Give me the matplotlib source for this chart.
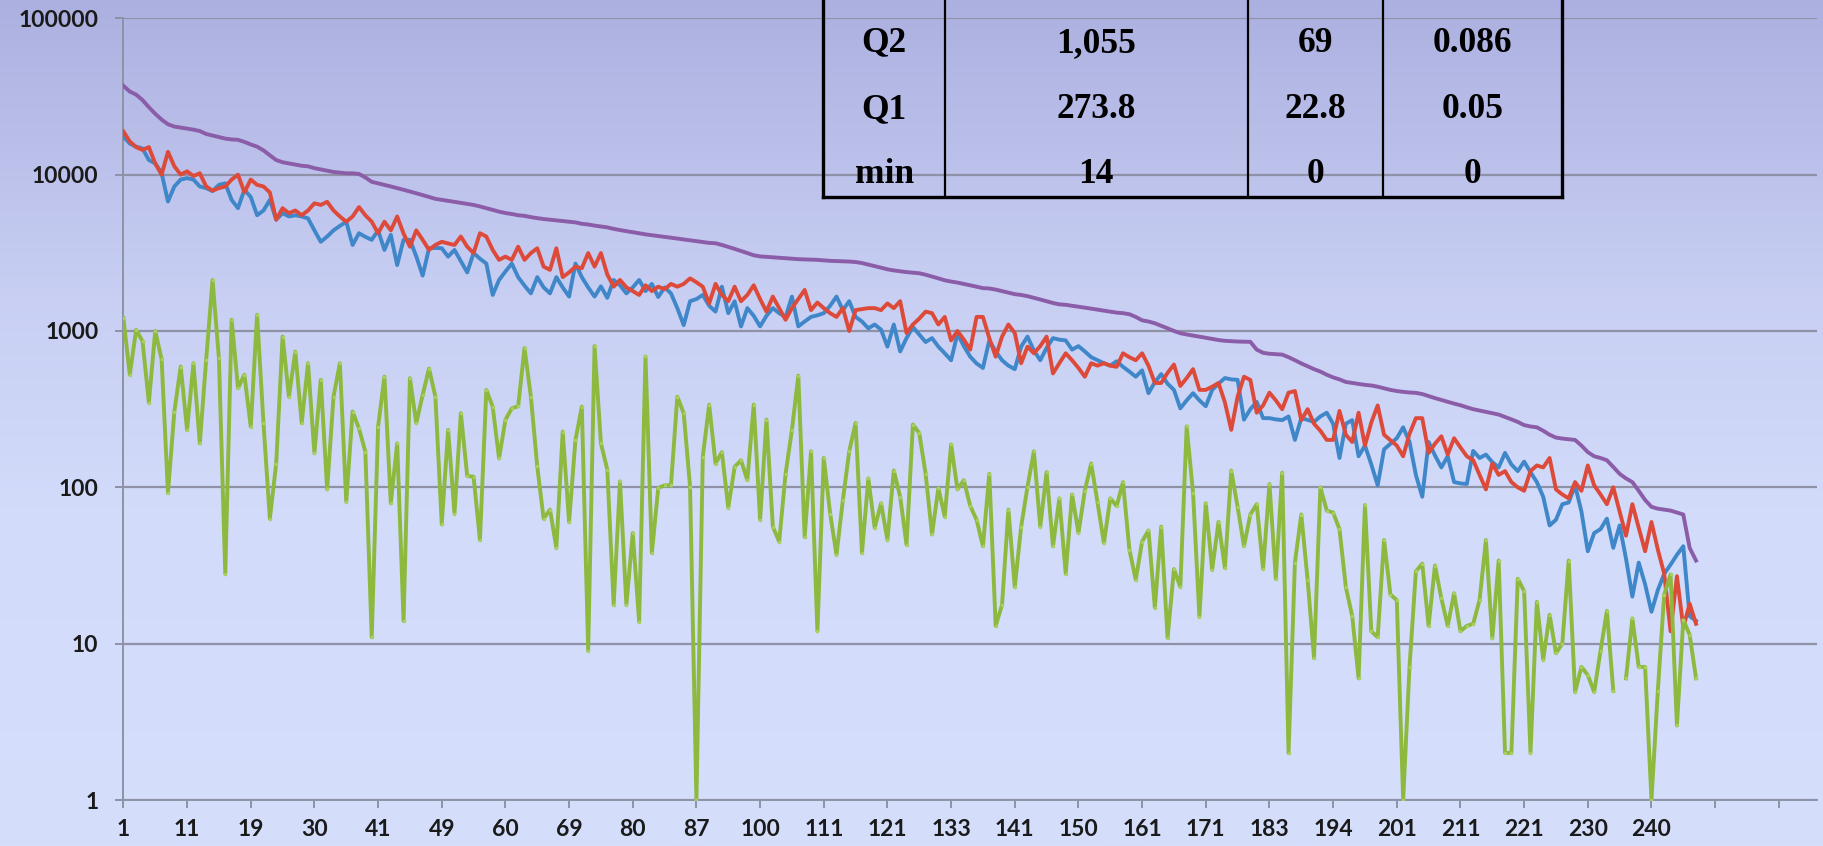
import numpy as np
import matplotlib
matplotlib.use("Agg")
import matplotlib.pyplot as plt
from matplotlib.lines import Line2D

# category labels shown under every 10th tick (last two ticks are empty categories)
tick_labels = ["1", "11", "19", "30", "41", "49", "60", "69", "80", "87", "100", "111", "121",
               "133", "141", "150", "161", "171", "183", "194", "201", "211", "221", "230", "240", "", ""]
y_ticks = [1, 10, 100, 1000, 10000, 100000]
y_tick_labels = ["1", "10", "100", "1000", "10000", "100000"]

total = [37000, 34000, 32500, 30000, 27000, 24500, 22500, 21000, 20300, 20000,
         19700, 19400, 19000, 18200, 17800, 17400, 17000, 16800, 16700, 16200,
         15600, 15100, 14300, 13300, 12400, 12000, 11800, 11600, 11400, 11300,
         11000, 10800, 10600, 10400, 10300, 10200, 10200, 10100, 9600, 9000,
         8800, 8600, 8400, 8200, 8000, 7800, 7600, 7400, 7200, 7000,
         6900, 6800, 6700, 6600, 6500, 6400, 6260, 6100, 5950, 5800,
         5680, 5600, 5500, 5450, 5350, 5270, 5200, 5150, 5100, 5050,
         5010, 4950, 4850, 4800, 4720, 4660, 4600, 4500, 4420, 4350,
         4280, 4220, 4150, 4100, 4050, 4000, 3950, 3900, 3850, 3800,
         3750, 3700, 3660, 3640, 3550, 3450, 3350, 3250, 3150, 3050,
         3000, 2980, 2960, 2940, 2920, 2900, 2880, 2870, 2860, 2850,
         2830, 2810, 2800, 2790, 2780, 2760, 2720, 2660, 2600, 2540,
         2480, 2440, 2410, 2380, 2360, 2340, 2290, 2230, 2170, 2110,
         2070, 2040, 2000, 1960, 1920, 1880, 1870, 1840, 1800, 1760,
         1720, 1700, 1670, 1630, 1590, 1550, 1510, 1480, 1470, 1450,
         1430, 1410, 1390, 1370, 1350, 1330, 1310, 1300, 1280, 1230,
         1170, 1150, 1120, 1080, 1040, 1000, 968, 950, 935, 920,
         905, 890, 875, 865, 860, 856, 854, 852, 760, 725,
         715, 710, 706, 680, 650, 620, 595, 570, 550, 525,
         505, 490, 472, 465, 458, 452, 448, 440, 430, 420,
         413, 408, 404, 402, 395, 383, 372, 362, 352, 343,
         335, 325, 316, 310, 304, 298, 292, 282, 272, 262,
         250, 245, 242, 230, 217, 208, 205, 203, 201, 185,
         168, 158, 154, 149, 135, 122, 114, 108, 95, 83,
         75, 73, 72, 71, 69, 67, 41, 34]

blue = [17500, 15800, 15100, 14700, 12400, 11800, 10250, 6730, 8400, 9300,
        9500, 9300, 8400, 8200, 7850, 8600, 8800, 6890, 6100, 8000,
        7200, 5500, 5900, 6890, 5150, 5670, 5400, 5500, 5400, 5250,
        4400, 3720, 4020, 4400, 4700, 5000, 3550, 4220, 4000, 3830,
        4400, 3300, 4120, 2640, 3830, 3830, 3000, 2260, 3380, 3400,
        3380, 2990, 3300, 2800, 2370, 3150, 2900, 2700, 1700, 2120,
        2400, 2700, 2210, 1950, 1740, 2210, 1900, 1740, 2210, 1900,
        1660, 2700, 2210, 1900, 1660, 1930, 1630, 2120, 1960, 1740,
        1900, 2120, 1800, 2000, 1650, 1900, 1740, 1400, 1090, 1550,
        1600, 1700, 1450, 1330, 1920, 1300, 1550, 1070, 1400, 1250,
        1070, 1250, 1400, 1300, 1230, 1660, 1070, 1150, 1230, 1260,
        1300, 1450, 1660, 1360, 1550, 1230, 1150, 1040, 1100, 1020,
        794, 1100, 740, 900, 1060, 950, 850, 900, 794, 720,
        650, 960, 800, 685, 620, 580, 870, 740, 650, 600,
        570, 794, 920, 750, 650, 780, 900, 880, 870, 760,
        800, 740, 680, 650, 622, 600, 640, 590, 550, 510,
        560, 400, 470, 530, 460, 420, 320, 360, 400, 360,
        330, 420, 460, 500, 490, 487, 271, 316, 352, 277,
        277, 272, 269, 284, 201, 277, 270, 262, 284, 300,
        255, 154, 255, 269, 158, 185, 140, 103, 175, 190,
        206, 242, 195, 120, 87, 195, 160, 134, 158, 108,
        106, 105, 171, 154, 162, 145, 134, 166, 140, 127,
        146, 125, 108, 87, 57, 62, 78, 80, 103, 70,
        39, 51, 54, 63, 41, 57, 35, 20, 33, 24,
        16, 22, 28, 32, 37, 42, 15, 14]

red = [18900, 16300, 15000, 14400, 15000, 11800, 10000, 14000, 11300, 10000,
       10500, 9800, 10200, 8400, 7900, 8200, 8400, 9300, 10000, 7700,
       9300, 8600, 8400, 7700, 5150, 6100, 5670, 5900, 5500, 5900,
       6560, 6400, 6700, 5900, 5400, 5000, 5400, 6200, 5500, 5000,
       4220, 5000, 4400, 5400, 4200, 3460, 4400, 3830, 3300, 3550,
       3720, 3630, 3550, 4020, 3460, 3150, 4220, 4020, 3300, 2850,
       2990, 2850, 3460, 2850, 3150, 3380, 2580, 2460, 3380, 2210,
       2370, 2580, 2520, 3150, 2580, 3150, 2300, 1920, 2120, 1900,
       1800, 1700, 1960, 1800, 1920, 1850, 2000, 1920, 2000, 2170,
       2050, 1920, 1500, 2000, 1700, 1550, 1920, 1550, 1700, 1960,
       1600, 1330, 1660, 1400, 1180, 1400, 1600, 1830, 1360, 1520,
       1400, 1300, 1230, 1400, 1000, 1360, 1380, 1400, 1400, 1360,
       1500, 1400, 1550, 970, 1100, 1200, 1330, 1300, 1100, 1230,
       870, 1000, 880, 760, 1230, 1230, 900, 685, 920, 1100,
       970, 622, 794, 720, 800, 920, 535, 622, 720, 650,
       580, 510, 622, 600, 622, 600, 590, 720, 680, 650,
       720, 600, 465, 465, 540, 610, 445, 500, 570, 420,
       420, 440, 465, 350, 233, 380, 510, 486, 300, 334,
       403, 360, 316, 403, 413, 269, 316, 255, 230, 201,
       201, 308, 217, 195, 300, 185, 260, 334, 217, 200,
       185, 158, 220, 277, 277, 166, 190, 212, 162, 206,
       180, 158, 149, 120, 97, 142, 120, 127, 108, 100,
       95, 127, 138, 134, 154, 97, 90, 85, 108, 95,
       138, 103, 90, 78, 100, 70, 49, 78, 55, 39,
       60, 40, 28, 12, 27, 12.7, 18, 13.4]

# zero counts cannot sit on a log axis and are left as gaps
green = [1208, 525, 1016, 860, 348, 1000, 660, 92, 305, 592,
         233, 622, 191, 653, 2120, 670, 28, 1178, 431, 525,
         244, 1268, 257, 63, 142, 920, 380, 738, 257, 622,
         165, 487, 97, 380, 622, 81, 305, 238, 169, 11,
         244, 510, 79, 191, 14, 499, 257, 390, 575, 380,
         58, 233, 68, 298, 118, 117, 46, 420, 328, 153,
         270, 320, 330, 776, 380, 136, 63, 72, 41, 227,
         60, 201, 328, 9, 800, 191, 130, 17.7, 109, 17.7,
         51, 13.8, 687, 38, 99, 103, 103, 380, 298, 101,
         1, 157, 338, 142, 168, 74, 135, 149, 111, 338,
         62, 271, 56, 45, 122, 233, 518, 48, 170, 12,
         154, 68, 37, 83, 170, 258, 38, 114, 55, 79,
         46, 128, 87, 43, 252, 222, 122, 50, 99, 65,
         188, 97, 111, 76, 62, 42, 122, 13, 17.7, 72,
         23, 56, 101, 170, 56, 125, 42, 85, 28, 90,
         51, 95, 142, 80, 44, 85, 76, 108, 40, 25.6,
         45, 53, 17, 56, 10.9, 30, 23, 245, 92, 14.9,
         79, 29.7, 60, 30.5, 128, 75, 42, 67, 78, 30,
         105, 26, 124, 2, 33, 67, 25.5, 8.1, 100, 71,
         69, 54, 23, 15, 6, 77, 12, 11, 46, 20.6,
         19, 1, 7.1, 29, 32.5, 13, 31.6, 19.5, 13, 21,
         12, 13, 13.4, 19, 46, 10.8, 34, 2, 2, 26,
         21.7, 2, 18.5, 7.9, 15.3, 8.7, 10, 34, 4.9, 7.1,
         6.3, 4.9, 9, 16.2, 5.0, np.nan, 6.0, 14.5, 7.1, 7.1,
         1, 5.0, 20.6, 27.7, 3.0, 14.2, 11.4, 6.0]

table_rows = [["Q2", "1,055", "69", "0.086"],
              ["Q1", "273.8", "22.8", "0.05"],
              ["min", "14", "0", "0"]]

W, H = 1824, 846
fig = plt.figure(figsize=(W / 100, H / 100), dpi=100)

# background gradient over the whole picture
bg = fig.add_axes([0, 0, 1, 1], zorder=-5)
stops = [0.0, 0.35, 0.6, 1.0]
cols = np.array([[172, 176, 224], [200, 207, 243], [210, 219, 250], [213, 223, 252]]) / 255
yy = np.linspace(0, 1, 400)
grad = np.stack([np.interp(yy, stops, cols[:, c]) for c in range(3)], axis=1)
bg.imshow(grad[:, None, :], aspect="auto", extent=[0, 1, 0, 1])
bg.axis("off")

ax = fig.add_axes([123.4 / W, 1 - 800 / H, (1817 - 123.4) / W, (800 - 18.3) / H])
ax.set_facecolor("none")

x = np.arange(len(total))
ax.plot(x, blue, color="#3f87c9", lw=2.8, zorder=3)
ax.plot(x, red, color="#de4a3a", lw=2.8, zorder=4)
ax.plot(x, green, color="#8cb93e", lw=2.8, zorder=5, marker="o", markersize=2.6,
        markerfacecolor="#a9cf62", markeredgewidth=0)
ax.plot(x, total, color="#8b5da8", lw=2.8, zorder=6)

ax.set_yscale("log")
ax.set_ylim(1, 100000)
ax.set_xlim(0, 266)
ax.set_yticks(y_ticks)
ax.set_yticklabels(y_tick_labels)
ax.yaxis.set_minor_locator(matplotlib.ticker.NullLocator())
ax.set_xticks(np.arange(0, 10 * len(tick_labels), 10))
ax.set_xticklabels(tick_labels)

ax.grid(axis="y", color="#8f92a6", lw=1.6)
ax.set_axisbelow(True)
for s in ["top", "right"]:
    ax.spines[s].set_visible(False)
for s in ["left", "bottom"]:
    ax.spines[s].set_color("#8f92a6")
    ax.spines[s].set_linewidth(1.4)

ax.tick_params(axis="both", colors="#8f92a6", length=6, width=1.4, labelcolor="#1a1a1a",
               labelsize=16.5)
ax.tick_params(axis="y", pad=12)
ax.tick_params(axis="x", pad=8)
for lab in ax.get_xticklabels() + ax.get_yticklabels():
    lab.set_fontfamily("Lato")
    lab.set_fontweight("bold")

# summary table laid over the top of the chart
def fx(px):
    return px / W

def fy(py):
    return 1 - py / H

col_edges = [823.4, 944.8, 1247.8, 1383, 1562]
bottom = 197.3
for i, cx in enumerate(col_edges):
    lw = 2.4 if i in (0, len(col_edges) - 1) else 1.6
    fig.add_artist(Line2D([fx(cx), fx(cx)], [fy(-5), fy(bottom)], color="black", lw=lw))
fig.add_artist(Line2D([fx(col_edges[0]), fx(col_edges[-1])], [fy(bottom), fy(bottom)],
                      color="black", lw=2.4))

centers = [(col_edges[i] + col_edges[i + 1]) / 2 for i in range(4)]
baselines = [51.7, 118.3, 183.3]
for row, base in zip(table_rows, baselines):
    for txt, cx in zip(row, centers):
        fig.text(fx(cx), fy(base), txt, ha="center", va="baseline",
                 fontfamily="Liberation Serif", fontweight="bold", fontsize=25.5, color="black")

fig.savefig("out.png", dpi=100)
